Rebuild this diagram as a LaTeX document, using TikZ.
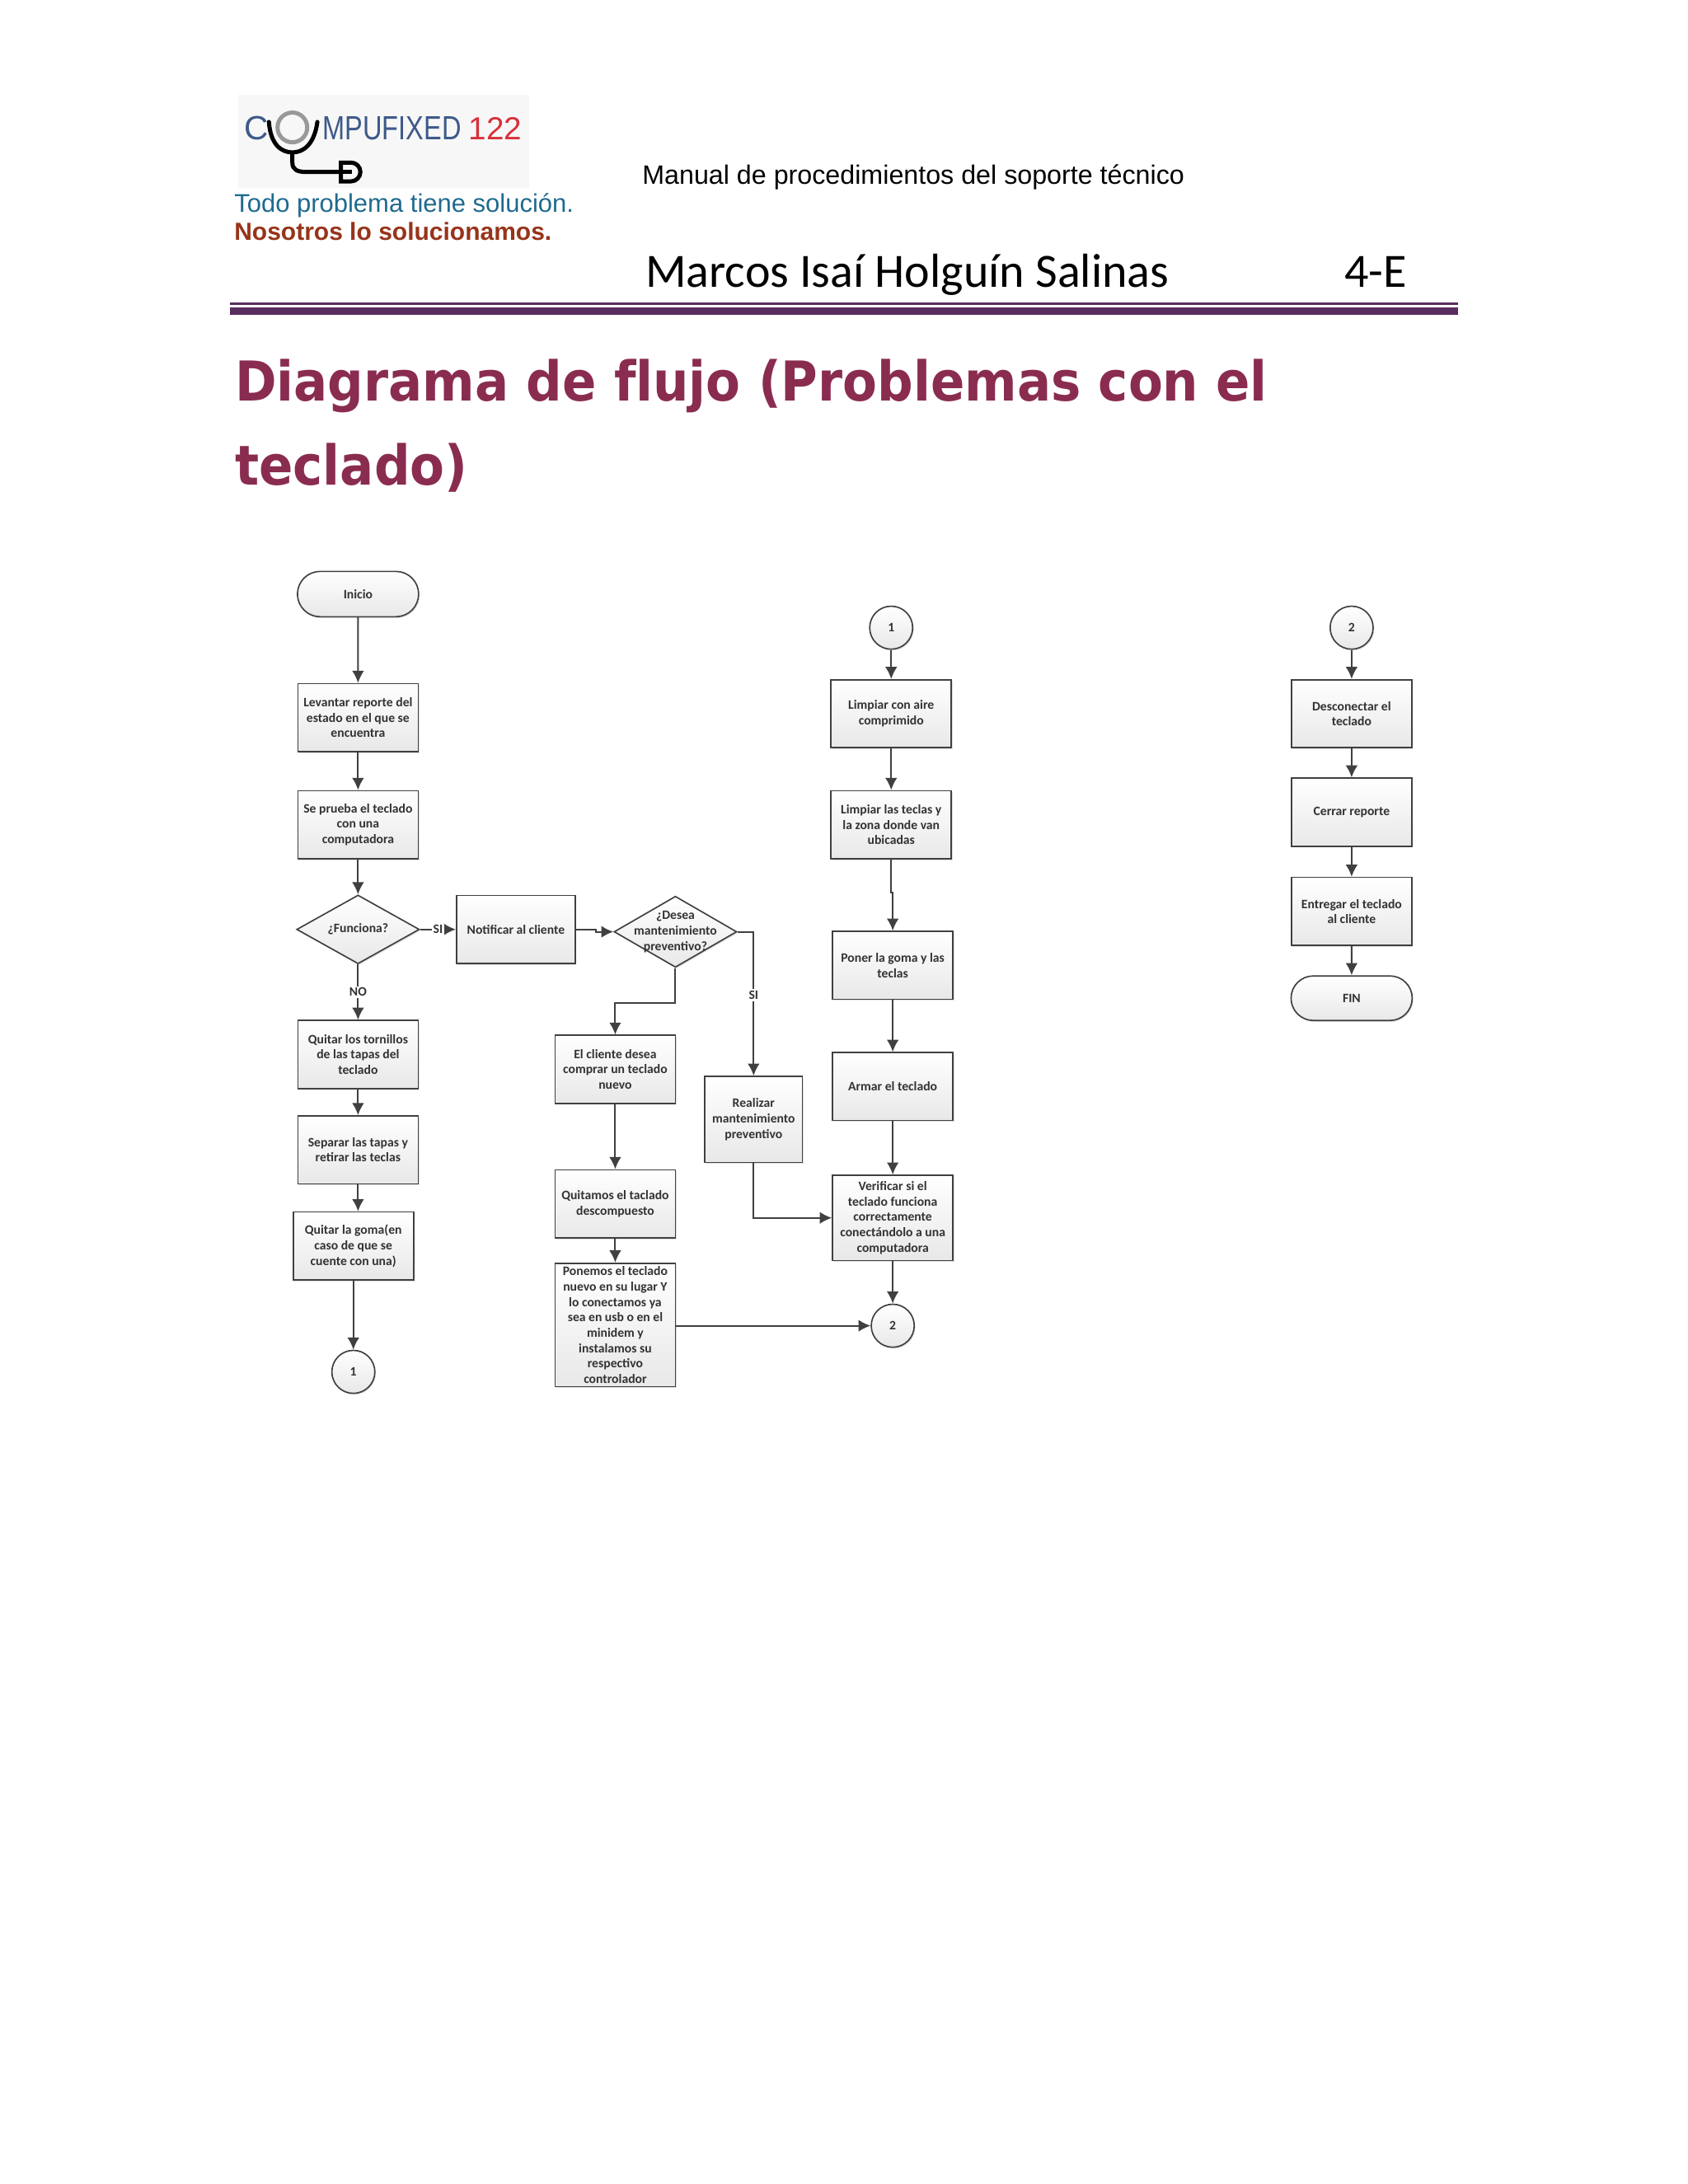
\documentclass[tikz,border=0pt]{standalone}
\usepackage{fontspec}
\setmainfont{Liberation Sans}
\newfontfamily\flujofont{Carlito}
\newfontfamily\logofont[FakeStretch=0.8]{Liberation Sans}
\newfontfamily\titulofont[FakeStretch=0.915,Ligatures=NoCommon]{DejaVu Sans}
\usetikzlibrary{arrows.meta,shapes.geometric,shapes.misc,shadows}
\definecolor{linea}{HTML}{404040}
\definecolor{vino}{HTML}{8A2C50}
\definecolor{morado}{HTML}{5A2D5F}
\definecolor{azullogo}{HTML}{3D5A8A}
\definecolor{rojologo}{HTML}{D8303A}
\definecolor{azultexto}{HTML}{1F6A8E}
\definecolor{oxido}{HTML}{97341A}
\tikzset{
  base/.style={draw=linea, line width=0.5pt, top color=white, bottom color=black!9,
    drop shadow={shadow xshift=0.4pt, shadow yshift=-0.5pt, opacity=0.25},
    font=\flujofont\bfseries\fontsize{4.7}{5.6}\selectfont, text=black!80, align=center, inner sep=0pt},
  caja/.style={base, rectangle, minimum width=1.54cm, minimum height=0.87cm},
  terminal/.style={base, rounded rectangle, minimum width=1.55cm, minimum height=0.58cm},
  decision/.style={base, diamond, minimum width=1.57cm, minimum height=0.88cm},
  conector/.style={base, circle, minimum size=0.55cm},
  flecha/.style={->, draw=linea, line width=0.6pt},
  etiqueta/.style={fill=white, font=\flujofont\bfseries\fontsize{4.7}{5.6}\selectfont, text=black!80, inner sep=0.6pt},
  cabecera/.style={anchor=base west, inner sep=0pt}
}
\begin{document}
\begin{tikzpicture}[>={Latex[length=4.4pt,width=4.4pt]}]
\useasboundingbox (0,0) rectangle (21.59,-27.94);

% Logo
\fill[black!3] (3.05,-1.21) rectangle (6.77,-2.40);
\node[cabecera, text=azullogo, font=\fontsize{12.2}{12}\selectfont] (logoC) at (3.12,-1.79) {C};
\node[cabecera, text=azullogo, font=\logofont\fontsize{12.2}{12}\selectfont] (logoT) at (4.12,-1.79) {MPUFIXED};
\node[cabecera, text=rojologo, font=\fontsize{11.6}{12}\selectfont] (logoN) at (5.99,-1.79) {122};
\draw[black!40, line width=1.5pt] (3.74,-1.63) circle (0.19);
\draw[black, line width=1.5pt, line cap=round] (3.44,-1.56) .. controls (3.46,-1.85) and (3.6,-1.95) .. (3.74,-1.95)
  .. controls (3.88,-1.95) and (4.02,-1.85) .. (4.06,-1.56);
\draw[black, line width=1.5pt] (3.74,-1.95) -- (3.74,-2.08) .. controls (3.74,-2.17) and (3.8,-2.2) .. (3.92,-2.2) -- (4.36,-2.2);
\draw[black, line width=1.5pt] (4.36,-2.08) -- (4.49,-2.08) arc (90:-90:0.12) -- (4.36,-2.32) -- cycle;
\draw[black, line width=1.5pt] (4.36,-2.2) -- (4.5,-2.2);

% Cabecera
\node[cabecera, text=azultexto, font=\fontsize{9.3}{12}\selectfont] (lema) at (2.99,-2.71) {Todo problema tiene solución.};
\node[cabecera, text=oxido, font=\bfseries\fontsize{9}{12}\selectfont] (lemaB) at (2.99,-3.07) {Nosotros lo solucionamos.};
\node[cabecera, font=\fontsize{9.67}{12}\selectfont] (manual) at (8.21,-2.36) {Manual de procedimientos del soporte técnico};
\node[cabecera, font=\flujofont\fontsize{17.4}{20}\selectfont] (nombre) at (8.25,-3.67) {Marcos Isaí Holguín Salinas};
\node[cabecera, font=\flujofont\fontsize{17.4}{20}\selectfont] (grupo) at (17.19,-3.67) {4-E};
\fill[morado] (2.94,-3.87) rectangle (18.65,-3.90);
\fill[morado] (2.94,-3.93) rectangle (18.65,-4.03);

% Titulo
\node[cabecera, text=vino, font=\titulofont\bfseries\fontsize{20}{24}\selectfont] (titulo) at (3.0,-5.13) {Diagrama de flujo (Problemas con el};
\node[cabecera, text=vino, font=\titulofont\bfseries\fontsize{20}{24}\selectfont] (tituloB) at (3.0,-6.20) {teclado)};

% Primera columna
\node[terminal] (inicio) at (4.58,-7.60) {Inicio};
\node[caja] (reporte) at (4.58,-9.18) {Levantar reporte del\\estado en el que se\\encuentra};
\node[caja] (prueba) at (4.58,-10.55) {Se prueba el teclado\\con una\\computadora};
\node[decision] (funciona) at (4.58,-11.89) {};
\node[etiqueta, fill=none] (funcionaT) at (funciona) {¿Funciona?};
\node[caja] (tornillos) at (4.58,-13.49) {Quitar los tornillos\\de las tapas del\\teclado};
\node[caja] (separar) at (4.58,-14.71) {Separar las tapas y\\retirar las teclas};
\node[caja] (goma) at (4.52,-15.94) {Quitar la goma(en\\caso de que se\\cuente con una)};
\node[conector] (unoA) at (4.52,-17.55) {1};

% Segunda columna
\node[caja, minimum width=1.52cm] (notificar) at (6.60,-11.89) {Notificar al cliente};
\node[decision, minimum height=0.91cm] (desea) at (8.64,-11.92) {};
\node[etiqueta, fill=none, align=center] (deseaT) at (desea) {¿Desea\\mantenimiento\\preventivo?};
\node[caja] (cliente) at (7.87,-13.68) {El cliente desea\\comprar un teclado\\nuevo};
\node[caja] (quitamos) at (7.87,-15.40) {Quitamos el taclado\\descompuesto};
\node[caja, minimum height=1.58cm] (ponemos) at (7.87,-16.95) {Ponemos el teclado\\nuevo en su lugar Y\\lo conectamos ya\\sea en usb o en el\\minidem y\\instalamos su\\respectivo\\controlador};
\node[caja, minimum width=1.25cm, minimum height=1.10cm] (realizar) at (9.64,-14.32) {Realizar\\mantenimiento\\preventivo};

% Tercera columna
\node[conector] (unoB) at (11.40,-8.03) {1};
\node[caja] (aire) at (11.40,-9.13) {Limpiar con aire\\comprimido};
\node[caja] (teclas) at (11.40,-10.55) {Limpiar las teclas y\\la zona donde van\\ubicadas};
\node[caja] (poner) at (11.42,-12.35) {Poner la goma y las\\teclas};
\node[caja] (armar) at (11.42,-13.90) {Armar el teclado};
\node[caja, minimum height=1.09cm] (verificar) at (11.42,-15.58) {Verificar si el\\teclado funciona\\correctamente\\conectándolo a una\\computadora};
\node[conector] (dosA) at (11.42,-16.96) {2};

% Cuarta columna
\node[conector] (dosB) at (17.29,-8.03) {2};
\node[caja] (desconectar) at (17.29,-9.13) {Desconectar el\\teclado};
\node[caja] (cerrar) at (17.29,-10.39) {Cerrar reporte};
\node[caja] (entregar) at (17.29,-11.66) {Entregar el teclado\\al cliente};
\node[terminal, minimum height=0.57cm] (fin) at (17.29,-12.77) {FIN};

% Flechas
\draw[flecha] (inicio) -- (reporte);
\draw[flecha] (reporte) -- (prueba);
\draw[flecha] (prueba) -- (funciona);
\draw[flecha] (funciona) -- node[etiqueta, pos=0.5] (noA) {NO} (tornillos);
\draw[flecha] (tornillos) -- (separar);
\draw[flecha] (separar.south) -- (separar.south |- goma.north);
\draw[flecha] (goma) -- (unoA);
\draw[flecha] (funciona) -- node[etiqueta, pos=0.5] (siA) {SI} (notificar);
\draw[flecha] (notificar.east) -- ++(0.25,0) |- (desea.west);
\draw[flecha] (desea.south) -- ++(0,-0.45) -| (cliente.north);
\draw[flecha] (desea.east) -| node[etiqueta, pos=0.72] (siB) {SI} (realizar.north);
\draw[flecha] (cliente) -- (quitamos);
\draw[flecha] (quitamos) -- (ponemos);
\draw[flecha] (realizar.south) |- (verificar.west);
\draw[flecha] (ponemos.east |- dosA) -- (dosA);
\draw[flecha] (unoB) -- (aire);
\draw[flecha] (aire) -- (teclas);
\draw[flecha] (teclas.south) -- ++(0,-0.42) -| (poner.north);
\draw[flecha] (poner) -- (armar);
\draw[flecha] (armar) -- (verificar);
\draw[flecha] (verificar) -- (dosA);
\draw[flecha] (dosB) -- (desconectar);
\draw[flecha] (desconectar) -- (cerrar);
\draw[flecha] (cerrar) -- (entregar);
\draw[flecha] (entregar) -- (fin);

\end{tikzpicture}
\end{document}
